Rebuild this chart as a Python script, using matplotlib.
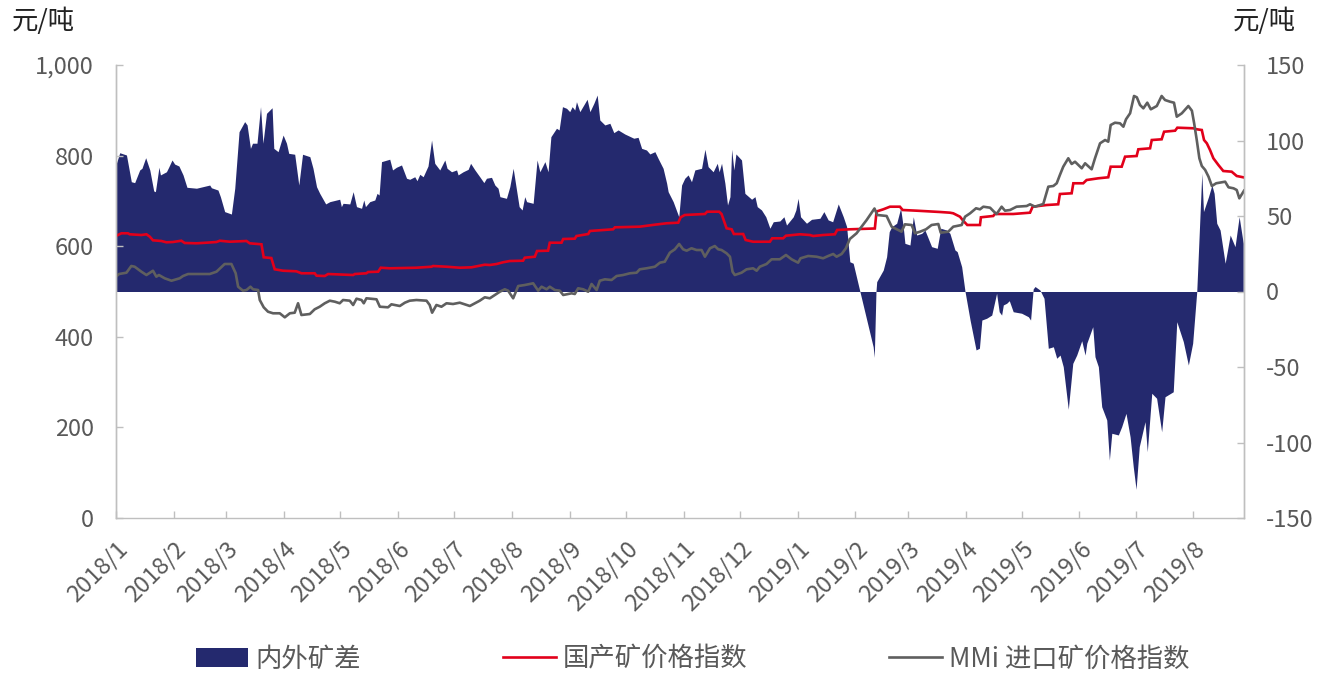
import matplotlib
matplotlib.use("Agg")
import numpy as np
import matplotlib.pyplot as plt
import matplotlib.dates as mdates
from matplotlib.patches import Patch
from matplotlib.lines import Line2D

plt.rcParams['font.family'] = ['Noto Sans CJK SC', 'DejaVu Sans']

# ---------------- data (day offsets from 2018-01-01) ----------------
start_date = '2018-01-01'

area_days = [0.2,2.0,5.6,8.2,10.0,12.7,13.9,15.9,18.1,20.2,
             21.1,23.0,23.8,27.0,28.2,30.0,31.4,33.7,35.9,38.0,
             43.1,50.2,51.1,54.6,55.9,58.2,61.8,63.6,65.9,68.9,
             70.2,72.0,73.1,75.5,77.4,78.7,80.6,83.6,84.5,86.8,
             89.5,91.3,92.5,95.7,97.9,99.9,103.8,105.5,107.4,109.1,
             112.3,114.5,119.8,120.7,121.6,125.2,127.0,128.8,131.5,132.7,
             133.6,135.9,138.6,139.8,140.9,142.2,146.6,148.1,150.2,152.9,
             155.6,157.3,160.0,161.2,162.7,164.5,167.1,169.0,170.7,173.4,
             176.1,177.3,179.7,182.4,183.2,185.9,188.6,189.9,192.2,194.8,
             197.0,198.4,201.1,202.9,204.6,205.6,209.1,210.9,212.7,214.5,
             215.9,217.5,218.9,219.9,223.4,225.5,227.0,229.7,231.4,232.9,
             235.9,237.3,239.1,241.3,243.0,244.3,245.7,246.6,248.4,250.5,
             252.3,253.8,255.9,257.7,259.1,261.8,264.5,266.6,268.9,272.5,
             277.3,279.6,281.5,284.1,285.9,288.6,290.3,293.0,294.9,295.7,
             298.4,301.4,302.9,304.6,306.4,308.2,310.0,313.6,315.4,317.1,
             319.8,322.0,323.0,324.3,326.1,327.5,328.8,329.7,330.9,332.0,
             335.0,336.8,340.4,342.2,343.4,345.7,348.0,350.2,352.0,355.5,
             357.7,359.1,362.7,364.1,365.3,366.6,369.8,372.5,377.0,379.1,
             381.4,383.8,386.8,389.5,391.3,393.0,394.8,398.4,405.5,406.1,
             407.0,407.4,410.9,412.7,414.1,415.4,418.1,420.2,421.6,422.5,
             425.2,427.0,428.8,431.5,433.2,435.0,436.8,439.8,441.7,444.8,
             446.6,449.3,450.5,452.9,454.7,457.4,460.6,462.4,463.7,466.3,
             469.0,470.8,471.6,473.0,474.3,475.2,477.0,478.4,480.5,485.0,
             488.6,489.8,491.2,492.2,494.8,497.0,499.3,502.0,503.8,505.6,
             507.3,510.0,512.4,514.5,517.2,519.0,519.9,523.1,524.3,526.1,
             527.9,530.6,532.0,533.3,536.8,538.6,540.9,543.1,544.8,546.3,
             548.0,551.1,552.3,554.7,557.3,560.0,561.8,566.2,568.1,571.6,
             574.3,576.6,578.8,581.5,582.4,585.1,586.9,588.1,589.5,591.3,
             594.0,596.7,599.3,601.5,603.7]
area_spread = [84.9,91.9,90.4,72.7,72.1,80.5,81.6,88.6,80.5,66.6,
               66.1,82.3,77.2,79.3,82.3,87.1,84.4,83.1,77.2,69.0,
               68.4,70.5,68.7,67.2,62.8,52.9,51.3,68.4,105.8,112.5,
               110.3,94.8,98.2,98.2,122.4,98.2,118.0,121.7,94.8,92.6,
               103.6,98.2,91.5,90.9,70.5,90.9,89.3,81.6,69.4,65.0,
               58.0,59.5,61.1,56.2,58.4,58.0,66.1,56.2,55.1,60.6,
               56.2,59.5,60.6,65.0,63.9,86.0,87.6,80.5,82.3,83.8,
               75.0,74.3,76.0,73.4,77.6,76.0,83.1,100.3,84.9,80.5,
               87.1,81.6,79.3,80.5,77.2,79.3,80.9,84.9,80.5,76.0,
               72.1,75.0,75.6,70.5,68.4,62.8,61.7,69.4,81.6,67.2,
               56.2,54.0,62.8,59.5,58.4,87.1,79.3,86.0,79.3,102.5,
               108.1,107.0,122.4,121.3,119.1,122.4,120.2,125.7,119.1,123.5,
               127.3,119.1,124.6,130.1,113.6,110.3,111.4,105.2,107.0,104.3,
               101.5,102.1,94.8,93.7,91.1,92.6,88.2,81.6,71.7,66.1,
               59.5,49.5,70.5,75.0,77.2,72.7,80.5,81.6,94.2,82.7,
               79.3,84.9,79.3,84.9,71.7,57.3,62.8,94.2,80.5,91.1,
               87.1,65.0,61.1,62.8,56.2,54.0,49.5,41.9,46.2,46.7,
               49.5,44.0,49.5,54.0,61.7,49.5,45.2,47.8,48.5,52.9,
               47.4,46.2,58.0,49.5,42.9,19.7,18.7,0,-36.6,-43.6,
               0,6.5,14.2,23.0,39.6,42.9,45.2,55.1,42.9,31.9,
               30.8,49.5,37.4,38.5,40.7,35.2,29.7,28.6,41.9,40.7,
               38.5,27.5,26.4,16.4,0,-18.9,-38.7,-37.6,-18.9,-17.7,
               -15.6,-5.6,-1.2,-13.4,-15.6,-8.9,-7.8,-6.1,-13.4,-14.4,
               -16.7,-18.9,1.7,3.3,1.0,-4.5,-37.6,-36.6,-44.2,-42.1,
               -49.8,-78.0,-47.6,-42.1,-32.6,-42.1,-34.3,-23.3,-43.2,-49.8,
               -76.3,-85.1,-111.6,-93.9,-95.0,-89.5,-80.7,-96.2,-116.1,-131.0,
               -102.8,-86.2,-106.1,-67.4,-70.7,-92.9,-69.7,-66.4,-20.0,-33.2,
               -48.7,-34.3,0,78.3,52.9,62.8,70.5,65.0,45.2,40.7,
               18.7,37.4,29.7,49.5,31.9]

domestic_days = [0,2.9,6.4,7.3,13.6,16.3,18.1,19.8,24.3,27.0,
                 30.5,35.0,36.8,43.1,48.4,53.8,55.6,60.9,69.9,71.6,
                 77.9,79.1,83.2,85.0,89.5,96.6,99.3,106.4,107.4,111.8,
                 113.6,127.0,127.9,134.1,135.0,140.4,141.8,146.6,160.9,169.0,
                 169.8,177.0,184.1,190.4,197.5,200.2,203.8,207.3,210.9,218.0,
                 218.9,224.3,225.5,231.4,232.3,238.6,239.5,245.7,246.6,252.9,
                 253.8,266.2,267.2,280.5,288.6,294.9,301.1,302.4,304.6,315.4,
                 316.6,323.0,324.3,327.0,329.7,330.9,335.9,337.2,341.2,350.2,
                 351.4,357.3,358.8,366.3,371.6,373.4,378.7,385.0,386.2,393.0,
                 406.4,407.3,410.9,414.5,419.8,421.3,428.8,441.3,446.6,448.4,
                 452.0,453.7,455.9,462.7,463.2,469.8,470.7,480.5,489.5,490.9,
                 498.4,504.6,505.5,511.8,512.7,518.0,519.8,526.1,531.4,532.7,
                 538.6,540.4,546.6,547.5,553.8,554.7,560.0,561.3,567.2,568.4,
                 577.0,578.8,581.5,582.7,584.2,585.9,587.7,590.4,593.0,597.5,
                 600.2,603.7]
domestic_index = [622.5,628.5,628.5,626.3,624.7,626.3,621.0,613.0,611.5,608.6,
                  609.3,612.1,607.1,606.4,607.7,609.3,612.1,609.9,611.5,606.4,
                  604.2,575.5,573.9,549.0,545.9,544.6,540.2,540.2,534.9,534.2,
                  538.6,536.4,538.6,540.2,543.0,543.7,552.5,551.2,552.5,554.7,
                  556.3,554.7,552.5,553.4,559.2,558.5,560.7,564.5,567.3,568.0,
                  574.6,576.8,589.4,590.1,607.7,607.7,615.9,616.6,622.5,626.9,
                  633.6,637.3,641.7,643.1,647.5,650.6,651.9,663.8,668.9,671.1,
                  676.2,676.2,671.1,639.5,637.3,626.9,626.9,613.7,609.9,609.9,
                  617.4,617.4,623.2,626.3,624.7,622.5,624.7,626.3,635.8,637.3,
                  639.1,676.6,681.4,687.2,687.2,679.9,678.4,675.5,674.0,672.6,
                  665.1,656.3,646.8,646.8,663.8,666.7,671.1,671.1,674.0,687.2,
                  690.9,692.5,715.2,716.8,738.9,738.9,746.1,749.9,752.1,775.5,
                  775.5,797.6,799.1,813.9,816.1,834.4,836.0,852.7,855.0,861.6,
                  860.3,858.1,856.5,834.4,827.1,812.4,794.1,779.2,766.0,764.5,
                  755.0,752.1]

mmi_days = [0,1.6,5.6,8.2,10.0,13.6,16.3,19.8,21.6,23.0,
            26.1,29.7,34.1,35.9,38.6,50.2,53.8,58.2,61.8,64.1,
            65.4,68.0,69.9,72.0,73.4,76.1,77.0,79.1,81.4,84.1,
            87.7,90.4,93.1,95.7,97.5,99.3,103.8,106.4,109.1,111.8,
            114.5,117.2,119.8,121.6,125.2,127.0,128.8,131.5,132.7,134.1,
            139.5,141.3,145.7,147.5,152.0,154.7,157.3,160.9,166.3,168.0,
            169.3,171.6,174.3,177.0,180.5,184.1,189.5,192.2,194.8,197.5,
            200.2,202.9,205.6,208.2,210.0,212.7,215.4,218.9,223.4,226.1,
            227.9,230.6,232.3,235.0,237.7,239.5,244.0,245.7,247.5,250.2,
            252.9,254.7,257.4,259.1,261.8,265.4,268.1,271.6,275.2,278.8,
            280.5,284.1,288.6,291.3,293.9,296.6,299.3,301.6,303.7,305.6,
            308.2,310.9,313.6,315.4,318.1,320.7,322.5,324.3,327.0,328.8,
            330.2,331.4,335.0,337.7,341.2,343.1,344.8,348.4,351.1,355.5,
            358.8,361.8,365.3,366.6,370.7,375.2,378.7,381.4,384.1,385.9,
            388.6,390.9,393.0,396.6,402.0,406.2,407.7,412.7,415.4,417.1,
            418.9,420.7,422.5,426.1,427.9,430.6,433.8,436.8,440.4,441.7,
            445.7,448.4,452.9,454.7,457.4,460.6,462.7,464.5,468.1,470.2,
            471.6,474.3,476.1,478.8,482.3,487.7,489.5,492.2,496.6,499.3,
            502.0,503.8,505.5,507.3,510.0,511.8,513.6,517.2,519.0,522.5,
            524.3,527.0,529.7,531.4,532.7,535.0,537.7,539.5,540.9,543.1,
            545.2,546.7,548.4,550.2,552.3,554.2,557.4,560.0,561.8,564.5,
            566.6,568.1,570.8,574.3,576.2,577.4,578.8,580.2,581.5,583.3,
            585.1,586.9,589.2,594.0,595.8,598.5,600.2,601.6,604.1]
mmi_index = [532.7,538.6,541.5,556.3,554.7,543.7,536.4,545.9,532.7,536.4,
             529.1,523.8,529.1,534.2,538.6,538.6,543.7,560.7,560.7,540.2,
             510.6,501.8,503.3,510.6,504.9,503.3,481.2,465.1,455.4,451.9,
             451.9,443.0,451.9,453.2,474.0,448.1,450.3,460.7,466.4,474.0,
             479.7,477.5,474.0,481.2,479.7,470.2,484.1,481.2,474.0,485.0,
             482.8,466.4,465.1,471.7,468.0,475.3,479.7,481.2,479.7,470.2,
             453.2,470.2,466.4,474.0,472.4,475.3,468.0,474.0,479.7,487.2,
             485.0,492.3,499.6,504.9,501.8,485.0,512.1,514.3,518.1,501.8,
             510.6,504.9,510.6,503.3,501.8,492.3,496.0,494.5,507.1,504.9,
             499.6,516.6,503.3,523.8,526.9,525.4,534.2,536.4,540.2,541.5,
             549.0,551.2,554.7,563.6,565.8,585.6,593.2,604.9,593.2,590.1,
             595.4,591.6,591.6,576.8,595.4,600.4,593.2,591.6,584.3,576.8,
             543.7,536.4,541.5,549.0,551.2,545.9,554.7,560.7,571.1,571.1,
             580.6,571.1,563.6,573.3,578.4,576.8,573.3,578.4,582.8,576.8,
             582.8,595.4,615.9,628.5,657.8,683.2,668.9,666.7,643.1,639.5,
             635.8,632.0,648.3,646.8,628.5,632.0,637.3,646.8,649.0,629.8,
             632.0,643.1,646.8,665.1,672.6,683.7,681.4,687.2,685.0,676.2,
             671.1,687.2,678.4,679.9,687.2,688.7,692.5,687.2,693.2,731.4,
             732.9,738.9,757.2,775.5,794.1,781.5,786.5,772.0,783.0,769.8,
             794.1,827.1,834.4,830.7,867.5,872.6,871.3,863.8,880.1,893.4,
             931.6,928.7,911.7,904.4,916.8,902.2,909.5,931.6,922.7,919.0,
             916.8,885.9,893.4,909.5,899.1,871.3,834.4,794.1,777.1,768.3,
             753.4,732.9,738.9,742.4,730.0,727.8,724.1,705.7,722.5]

month_ticks = ['2018-01-01','2018-02-01','2018-03-01','2018-04-01','2018-05-01',
               '2018-06-01','2018-07-01','2018-08-01','2018-09-01','2018-10-01',
               '2018-11-01','2018-12-01','2019-01-01','2019-02-01','2019-03-01',
               '2019-04-01','2019-05-01','2019-06-01','2019-07-01','2019-08-01']
month_labels = ['2018/1','2018/2','2018/3','2018/4','2018/5','2018/6','2018/7',
                '2018/8','2018/9','2018/10','2018/11','2018/12','2019/1','2019/2',
                '2019/3','2019/4','2019/5','2019/6','2019/7','2019/8']
end_day = 604.1

series_names = ['内外矿差', '国产矿价格指数', 'MMi 进口矿价格指数']
unit_label = '元/吨'

# ---------------- styling ----------------
NAVY = '#24296E'
RED = '#E2001A'
GRAY = '#5F5F5F'
SPINE = '#BFBFBF'
TXT = '#595959'

fig = plt.figure(figsize=(13.25, 6.74), dpi=100)
ax = fig.add_axes([116/1325, 1-518/674, (1244-116)/1325, (518-65)/674])
ax2 = ax.twinx()

base = mdates.date2num(np.datetime64(start_date))
xa = base + np.array(area_days)
xr = base + np.array(domestic_days)
xg = base + np.array(mmi_days)

ax.fill_between(xa, 0, area_spread, color=NAVY, linewidth=0, interpolate=True)
ax.set_ylim(-150, 150)
ax.set_yticks([-150, -100, -50, 0, 50, 100, 150])
ax.set_yticklabels([str(v) for v in [-150, -100, -50, 0, 50, 100, 150]])
ax.yaxis.tick_right()

ax2.plot(xr, domestic_index, color=RED, lw=1.9, solid_joinstyle='miter')
ax2.plot(xg, mmi_index, color=GRAY, lw=1.9)
ax2.set_ylim(0, 1000)
ax2.set_yticks([0, 200, 400, 600, 800, 1000])
ax2.set_yticklabels([f'{v:,}' for v in [0, 200, 400, 600, 800, 1000]])
ax2.yaxis.tick_left()

ax.set_xlim(base, base + end_day)
tick_x = [mdates.date2num(np.datetime64(d)) for d in month_ticks]
ax.set_xticks(tick_x)
ax.set_xticklabels(month_labels, rotation=45, ha='right', rotation_mode='anchor')

for a in (ax, ax2):
    for s in a.spines.values():
        s.set_color(SPINE)
        s.set_linewidth(1.0)
    a.spines['top'].set_visible(False)
    a.tick_params(axis='both', direction='in', length=5, width=1.0, color=SPINE,
                  labelsize=17, labelcolor=TXT, pad=16)
ax.tick_params(axis='x', pad=14)
ax2.spines['bottom'].set_visible(False)

fig.text(12/1325, 1-21/674, unit_label, fontsize=19, color='#222222', va='center', ha='left')
fig.text(1296/1325, 1-21/674, unit_label, fontsize=19, color='#222222', va='center', ha='right')

handles = [Patch(facecolor=NAVY, edgecolor='none'),
           Line2D([], [], color=RED, lw=1.9),
           Line2D([], [], color=GRAY, lw=1.9)]
fig.legend(handles, series_names, loc='center', bbox_to_anchor=(0.5226, 0.022),
           ncol=3, frameon=False, fontsize=19, handlelength=2.0, handletextpad=0.25,
           columnspacing=5.4, labelcolor=TXT, borderpad=0, borderaxespad=0)

fig.savefig('out.png', dpi=100)
